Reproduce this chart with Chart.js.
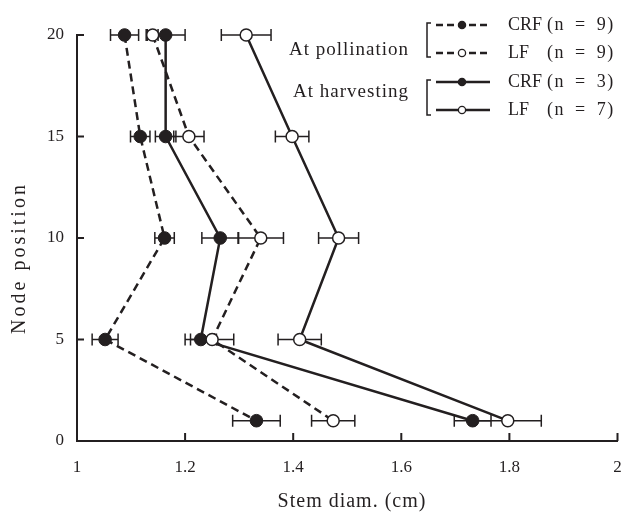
<!DOCTYPE html>
<html>
<head>
<meta charset="utf-8">
<script src="https://cdn.jsdelivr.net/npm/chart.js@4"></script>
<style>
  html, body { margin: 0; padding: 0; background: #fff; overflow: hidden; }
  canvas { display: block; }
</style>
</head>
<body>
<canvas id="c" width="625" height="516"></canvas>
<script>
// ---- data ----
const nodes = [20, 15, 10, 5, 1];
const crfPollination = [1.088, 1.117, 1.162, 1.052, 1.332];
const crfPollinationErr = [0.026, 0.018, 0.018, 0.024, 0.044];
const lfPollination = [1.140, 1.207, 1.340, 1.250, 1.474];
const lfPollinationErr = [0.010, 0.028, 0.042, 0.040, 0.040];
const crfHarvesting = [1.164, 1.164, 1.265, 1.229, 1.732];
const crfHarvestingErr = [0.036, 0.019, 0.034, 0.029, 0.034];
const lfHarvesting = [1.313, 1.398, 1.484, 1.412, 1.797];
const lfHarvestingErr = [0.046, 0.031, 0.037, 0.040, 0.062];
const xTicks = [1, 1.2, 1.4, 1.6, 1.8, 2];
const yTicks = [0, 5, 10, 15, 20];
const xTitle = 'Stem diam. (cm)';
const yTitle = 'Node position';
const groupLabels = ['At pollination', 'At harvesting'];
const seriesNames = ['CRF', 'LF', 'CRF', 'LF'];
const seriesN = ['(n = 9)', '(n = 9)', '(n = 3)', '(n = 7)'];

const INK = '#231f20';
const FONT = '"Liberation Serif", "DejaVu Serif", serif';

function pts(vals) { return vals.map((v, i) => ({ x: v, y: nodes[i] })); }

function ds(label, vals, errs, filled, dashed) {
  return {
    label,
    data: pts(vals),
    errors: errs,
    showLine: true,
    clip: false,
    borderColor: INK,
    borderWidth: 2.5,
    borderDash: dashed ? [8, 5] : [],
    pointRadius: filled ? 6.3 : 6,
    pointBorderWidth: filled ? 1 : 1.5,
    pointBackgroundColor: filled ? INK : '#fff',
    pointBorderColor: INK,
    pointHoverRadius: 6,
    filled, dashed
  };
}

const datasets = [
  ds('CRF pollination', crfPollination, crfPollinationErr, true, true),
  ds('LF pollination', lfPollination, lfPollinationErr, false, true),
  ds('CRF harvesting', crfHarvesting, crfHarvestingErr, true, false),
  ds('LF harvesting', lfHarvesting, lfHarvestingErr, false, false)
];

const decor = {
  id: 'decor',
  beforeDatasetsDraw(chart) {
    const { ctx, scales: { x, y } } = chart;
    ctx.save();
    ctx.strokeStyle = INK;
    ctx.lineWidth = 1.5;
    ctx.setLineDash([]);
    chart.data.datasets.forEach(d => {
      d.data.forEach((p, i) => {
        const e = d.errors[i];
        const xl = x.getPixelForValue(p.x - e);
        const xr = x.getPixelForValue(p.x + e);
        const py = y.getPixelForValue(p.y);
        ctx.beginPath();
        ctx.moveTo(xl, py); ctx.lineTo(xr, py);
        ctx.moveTo(xl, py - 6); ctx.lineTo(xl, py + 6);
        ctx.moveTo(xr, py - 6); ctx.lineTo(xr, py + 6);
        ctx.stroke();
      });
    });
    ctx.restore();
  },
  afterDraw(chart) {
    const { ctx, chartArea: a, scales: { x, y } } = chart;
    ctx.save();
    ctx.strokeStyle = INK;
    ctx.fillStyle = INK;
    ctx.lineWidth = 2;
    // inward tick marks
    ctx.beginPath();
    yTicks.forEach(t => {
      const py = y.getPixelForValue(t);
      ctx.moveTo(a.left, py); ctx.lineTo(a.left + 7, py);
    });
    xTicks.forEach(t => {
      const px = x.getPixelForValue(t);
      ctx.moveTo(px, a.bottom); ctx.lineTo(px, a.bottom - 8);
    });
    ctx.stroke();

    // axis titles
    ctx.font = '20px ' + FONT;
    ctx.textAlign = 'center';
    ctx.textBaseline = 'middle';
    ctx.letterSpacing = '1px';
    ctx.fillText(xTitle, 352, 502);
    ctx.save();
    ctx.translate(20, 258);
    ctx.rotate(-Math.PI / 2);
    ctx.letterSpacing = '3px';
    ctx.fillText(yTitle, 0, 0);
    ctx.restore();

    // legend
    const rows = [25, 53, 82, 110];
    const lx0 = 436, lx1 = 490, mx = 462;
    // brackets
    ctx.lineWidth = 1.5;
    ctx.setLineDash([]);
    [[23, 57], [80, 115]].forEach(([t, b]) => {
      ctx.beginPath();
      ctx.moveTo(431, t); ctx.lineTo(427, t); ctx.lineTo(427, b); ctx.lineTo(431, b);
      ctx.stroke();
    });
    // samples
    chart.data.datasets.forEach((d, i) => {
      const ry = rows[i];
      ctx.lineWidth = 2.7;
      ctx.setLineDash(d.dashed ? [7, 4] : []);
      ctx.beginPath();
      ctx.moveTo(lx0, ry); ctx.lineTo(lx1, ry);
      ctx.stroke();
      ctx.setLineDash([]);
      ctx.beginPath();
      ctx.arc(mx, ry, 3.6, 0, Math.PI * 2);
      ctx.fillStyle = d.filled ? INK : '#fff';
      ctx.fill();
      ctx.lineWidth = 1.3;
      ctx.stroke();
      ctx.fillStyle = INK;
      ctx.font = '18px ' + FONT;
      ctx.textAlign = 'left';
      ctx.letterSpacing = '0px';
      ctx.wordSpacing = '0px';
      ctx.fillText(seriesNames[i], 508, ry);
      ctx.letterSpacing = '1.5px';
      ctx.wordSpacing = '4px';
      ctx.fillText(seriesN[i], 547, ry);
    });
    ctx.wordSpacing = '0px';
    // group labels
    ctx.font = '19px ' + FONT;
    ctx.textAlign = 'right';
    ctx.letterSpacing = '1px';
    ctx.fillText(groupLabels[0], 409, 50);
    ctx.fillText(groupLabels[1], 409, 92);
    ctx.restore();
  }
};

new Chart(document.getElementById('c'), {
  type: 'scatter',
  data: { datasets },
  options: {
    responsive: false,
    devicePixelRatio: 1,
    animation: false,
    events: [],
    layout: { padding: { top: 35, right: 0, left: 0, bottom: 0 } },
    plugins: { legend: { display: false }, tooltip: { enabled: false } },
    scales: {
      x: {
        type: 'linear',
        min: 1, max: 2,
        afterBuildTicks: s => { s.ticks = xTicks.map(v => ({ value: v })); },
        afterFit: s => { s.height = 75; },
        grid: { drawOnChartArea: false, drawTicks: true, tickLength: 15, tickColor: 'rgba(0,0,0,0)' },
        border: { display: true, color: INK, width: 2 },
        ticks: {
          color: INK, padding: 1,
          font: { family: FONT, size: 17 },
          callback: v => String(v)
        }
      },
      y: {
        type: 'linear',
        min: 0, max: 20,
        afterBuildTicks: s => { s.ticks = yTicks.map(v => ({ value: v })); },
        afterFit: s => { s.width = 77; },
        grid: { drawOnChartArea: false, drawTicks: true, tickLength: 12, tickColor: 'rgba(0,0,0,0)' },
        border: { display: true, color: INK, width: 2 },
        ticks: {
          color: INK, padding: 1,
          font: { family: FONT, size: 17 },
          callback: v => String(v)
        }
      }
    }
  },
  plugins: [decor]
});
</script>
</body>
</html>
